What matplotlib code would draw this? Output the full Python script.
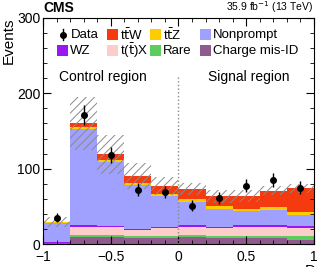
import numpy as np
import matplotlib
matplotlib.use('Agg')
import matplotlib.pyplot as plt
from matplotlib.patches import Rectangle
from matplotlib.lines import Line2D

plt.rcParams['font.family'] = ['Liberation Sans', 'DejaVu Sans']
plt.rcParams['hatch.linewidth'] = 0.7

# Binning (10 bins from -1 to 1)
edges = np.linspace(-1, 1, 11)

# Stacked backgrounds, bottom -> top (events per bin)
charge_misid = [1.0, 9, 9, 8, 8, 9, 8, 8, 8, 5]
rare = [0.5, 3, 3, 3, 3, 3, 3, 3, 3, 5]
ttx = [0.5, 10.5, 10, 8, 10, 11, 10, 11.5, 11, 11.5]
wz = [0.5, 2.5, 2, 1.5, 2, 2, 2, 2.5, 3, 2.5]
nonprompt = [26, 128, 84.5, 57.5, 41, 31, 24, 18.5, 20, 14]
ttz = [0.3, 2, 3.5, 3.6, 2, 4, 3, 3.5, 3.5, 4.5]
ttw = [0.5, 5, 7, 9, 11, 12.7, 13.6, 16.6, 22.5, 31.5]
syst_unc = [7, 35, 26, 17, 12, 8, 8.5, 7.5, 6, 6]

data = [35, 171, 118, 72, 69, 51, 60.5, 77.5, 85, 75]
data_err = [6, 13, 11, 8.5, 8.5, 7, 8, 9, 9, 9]

colors = ['#8f5a8c', '#5ccc5c', '#ffcccc', '#9a18f0', '#a0a0ff', '#ffcc00', '#f53a0f']
stack = [charge_misid, rare, ttx, wz, nonprompt, ttz, ttw]

fig = plt.figure(figsize=(3.19, 2.67), dpi=100)
ax = fig.add_axes([0.135, 0.086, 0.849, 0.847])

width = edges[1] - edges[0]
bottom = np.zeros(10)
for vals, col in zip(stack, colors):
    ax.bar(edges[:-1], vals, width=width, bottom=bottom, align='edge',
           color=col, linewidth=0)
    bottom = bottom + np.array(vals)

total = bottom
unc = np.array(syst_unc)
ax.bar(edges[:-1], 2 * unc, width=width, bottom=total - unc, align='edge',
       fill=False, hatch='////', edgecolor='#8a8a8a', linewidth=0)

centers = 0.5 * (edges[:-1] + edges[1:])
ax.errorbar(centers, data, yerr=data_err, fmt='o', color='black', ms=4,
            elinewidth=1, capsize=0, zorder=5)

# region separator
ax.plot([0, 0], [0, 222], ls=':', color='#888888', lw=1)
ax.text(-0.56, 222, 'Control region', ha='center', va='center', fontsize=10)
ax.text(0.52, 222, 'Signal region', ha='center', va='center', fontsize=10)

ax.set_xlim(-1, 1)
ax.set_ylim(0, 300)
ax.set_xticks([-1, -0.5, 0, 0.5, 1])
ax.set_xticklabels(['\u22121', '\u22120.5', '0', '0.5', '1'])
ax.set_yticks([0, 100, 200, 300])
ax.set_xticks(np.arange(-1, 1.01, 0.1), minor=True)
ax.set_yticks(np.arange(0, 301, 20), minor=True)
ax.tick_params(which='both', direction='in', top=True, right=True, labelsize=10)
ax.tick_params(which='major', length=6)
ax.tick_params(which='minor', length=3)
ax.tick_params(axis='x', pad=4)
ax.tick_params(axis='y', pad=2)
ax.set_ylabel('Events', loc='top', fontsize=11, labelpad=1)

# legend, drawn by hand in axes coordinates
leg_rows = [
    [('Data', None), (r't$\bar{\rm t}$W', colors[6]), (r't$\bar{\rm t}$Z', colors[5]), ('Nonprompt', colors[4])],
    [('WZ', colors[3]), (r't($\bar{\rm t}$)X', colors[2]), ('Rare', colors[1]), ('Charge mis-ID', colors[0])],
]
col_x = [0.052, 0.236, 0.395, 0.579]
row_y = [0.925, 0.854]
bw, bh = 0.041, 0.049
for r, row in enumerate(leg_rows):
    for c, (lab, col) in enumerate(row):
        x0, y0 = col_x[c], row_y[r]
        if col is None:
            ax.add_line(Line2D([x0 + bw / 2] * 2, [y0 - bh / 2, y0 + bh / 2],
                               color='black', lw=1, transform=ax.transAxes))
            ax.plot(x0 + bw / 2, y0, 'o', color='black', ms=4, transform=ax.transAxes)
        else:
            ax.add_patch(Rectangle((x0, y0 - bh / 2), bw, bh, color=col,
                                   transform=ax.transAxes, lw=0))
        ax.text(x0 + bw + 0.008, y0, lab, transform=ax.transAxes,
                va='center', ha='left', fontsize=9.5)

fig.text(0.135, 0.942, 'CMS', fontweight='bold', fontsize=10, ha='left', va='bottom')
fig.text(0.984, 0.942, r'35.9 fb$^{-1}$ (13 TeV)', fontsize=7.5, ha='right', va='bottom')
fig.text(0.955, 0.012, 'D', fontsize=11, ha='left', va='top')

fig.savefig('out.png', dpi=100)
